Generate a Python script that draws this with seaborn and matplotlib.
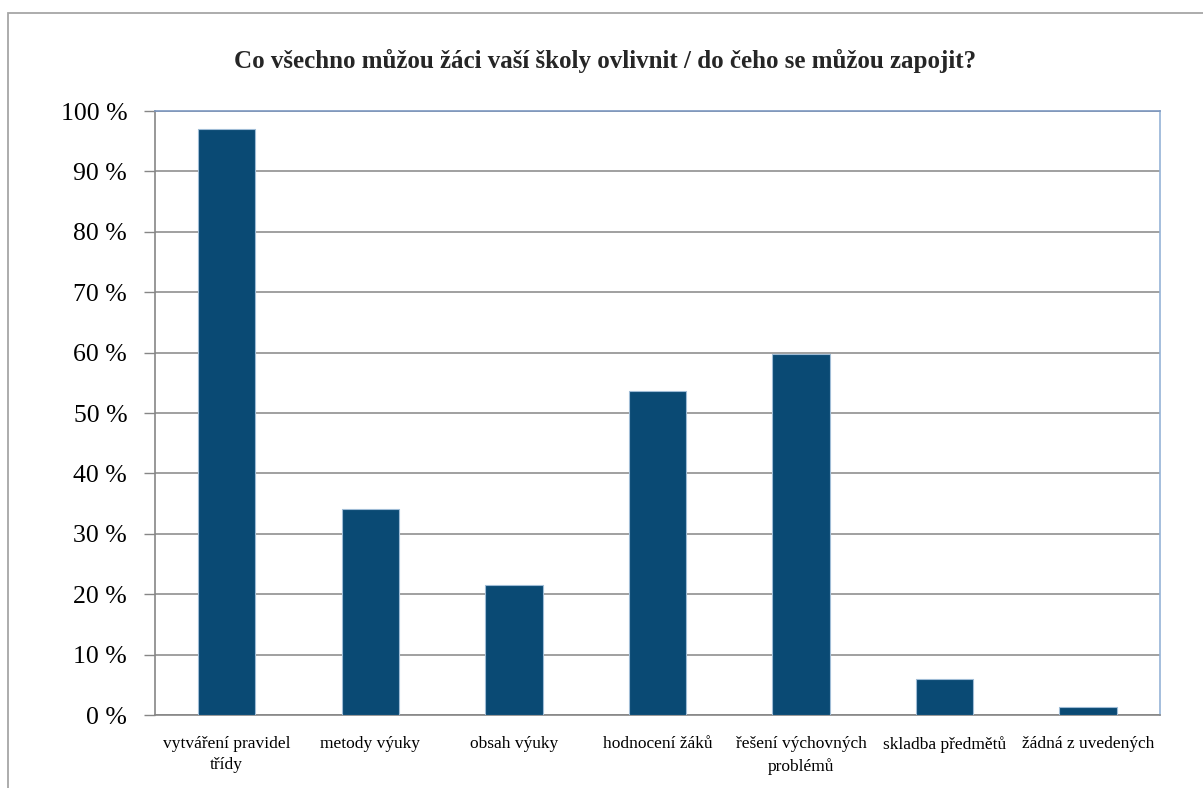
import matplotlib
matplotlib.use("Agg")
import matplotlib.pyplot as plt
import numpy as np
import pandas as pd
import seaborn as sns
from matplotlib.patches import Rectangle
from matplotlib.ticker import FixedLocator

# data
categories = [
    "vytváření pravidel\ntřídy",
    "metody výuky",
    "obsah výuky",
    "hodnocení žáků",
    "řešení výchovných\nproblémů",
    "skladba předmětů",
    "žádná z uvedených",
]
shares = [97.1, 34.1, 21.6, 53.6, 59.8, 6.0, 1.3]
y_ticks = list(range(0, 101, 10))
y_tick_labels = [f"{v} %" for v in y_ticks]
title = "Co všechno můžou žáci vaší školy ovlivnit / do čeho se můžou zapojit?"

sns.set_theme(style="white")
plt.rcParams["font.family"] = ["Liberation Serif", "DejaVu Serif"]

df = pd.DataFrame({"kategorie": categories, "podil": shares})

fig = plt.figure(figsize=(12.03, 7.88), dpi=100)
ax = fig.add_axes([155 / 1203, 73 / 788, 1005 / 1203, 604 / 788])

sns.barplot(
    data=df, x="kategorie", y="podil", ax=ax,
    color="#0A4A74", saturation=1, width=0.4,
    edgecolor="#9FBCD6", linewidth=0.8, zorder=3,
)

ax.set_xlim(-0.5, len(categories) - 0.5)
ax.set_ylim(0, 100)
ax.set_yticks(y_ticks)
ax.set_yticklabels(y_tick_labels, fontsize=18.5)
ax.set_xticks(range(len(categories)))
ax.set_xticklabels(categories, fontsize=12.5, linespacing=1.45)
ax.xaxis.set_minor_locator(FixedLocator(np.arange(-0.5, len(categories), 1.0)))
ax.tick_params(axis="x", which="major", length=0, pad=15, colors="black")
ax.tick_params(axis="x", which="minor", length=5, width=1, color="#868686",
               direction="out")
ax.tick_params(axis="y", length=8, width=1, color="#868686", direction="out",
               left=True, pad=12, labelcolor="black")
ax.set_xlabel("")
ax.set_ylabel("")

ax.yaxis.grid(True, color="#868686", linewidth=1.1, zorder=0)
ax.set_axisbelow(True)

ax.spines["left"].set_color("#868686")
ax.spines["bottom"].set_color("#868686")
ax.spines["top"].set_color("#7C97C0")
ax.spines["right"].set_color("#95B3D7")
for s in ax.spines.values():
    s.set_linewidth(1.2)
    s.set_visible(True)

fig.text(605 / 1203, 1 - 61 / 788, title, ha="center", va="center",
         fontsize=18, fontweight="bold")

# outer chart frame (runs off the right and bottom edges)
fig.patches.append(Rectangle((8 / 1203, -0.05), 1.2, 1 - 13 / 788 + 0.05,
                             transform=fig.transFigure, fill=False,
                             edgecolor="#A6A6A6", linewidth=1.3))

fig.savefig("out.png", dpi=100)
